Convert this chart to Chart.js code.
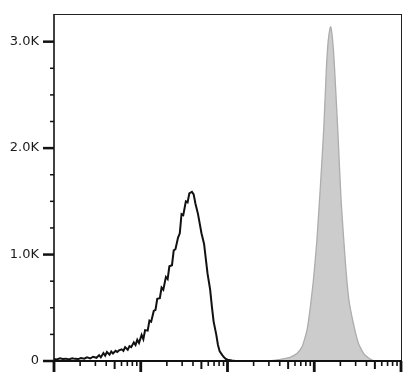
<!DOCTYPE html>
<html>
<head>
<meta charset="utf-8">
<script src="https://cdn.jsdelivr.net/npm/chart.js@4/dist/chart.umd.min.js"></script>
<style>
  html, body { margin: 0; padding: 0; background: #fff; }
  #c { display: block; }
</style>
</head>
<body>
<canvas id="c" width="418" height="375"></canvas>
<script>
const isotypeDecades = [0.00,0.03,0.07,0.10,0.14,0.17,0.21,0.24,0.28,0.31,0.35,0.38,0.42,0.45,0.49,0.52,0.54,0.57,0.59,0.61,0.64,0.66,0.68,0.71,0.73,0.75,0.78,0.80,0.82,0.85,0.87,0.89,0.92,0.94,0.96,0.98,1.01,1.03,1.05,1.08,1.10,1.12,1.15,1.17,1.19,1.22,1.24,1.26,1.29,1.31,1.33,1.36,1.38,1.40,1.43,1.45,1.47,1.49,1.52,1.54,1.56,1.59,1.61,1.63,1.66,1.68,1.70,1.73,1.75,1.77,1.80,1.82,1.84,1.87,1.89,1.91,1.94,1.96,1.98,2.00,2.03,2.05,2.09];
const isotypeCounts  = [20,15,25,18,22,15,25,20,18,28,22,35,25,40,30,55,35,75,50,85,60,90,70,95,85,100,110,95,130,105,140,130,175,150,200,170,245,205,290,285,380,370,470,480,585,590,690,670,790,770,890,900,1040,1050,1160,1200,1380,1370,1500,1490,1575,1590,1565,1480,1380,1290,1200,1100,960,820,670,510,370,250,150,90,55,35,20,12,8,4,0];

const stainedDecades = [2.49,2.57,2.64,2.72,2.80,2.86,2.89,2.92,2.95,2.99,3.03,3.07,3.11,3.14,3.16,3.18,3.19,3.21,3.23,3.27,3.31,3.36,3.40,3.46,3.51,3.57,3.65,3.69];
const stainedCounts  = [0,10,20,35,70,135,210,305,475,755,1130,1630,2190,2750,3000,3120,3140,3030,2810,2190,1500,915,570,320,165,70,15,0];

const yTickValues = [0, 1000, 2000, 3000];
const yTickLabels = ['0', '1.0K', '2.0K', '3.0K'];
const yMinorValues = [250, 500, 750, 1250, 1500, 1750, 2250, 2500, 2750];
const xDecadeMin = 0, xDecadeMax = 4;
const yMax = 3260;

function toPoints(dec, cnt) {
  return dec.map((d, i) => ({ x: Math.pow(10, d), y: cnt[i] }));
}

const axesPlugin = {
  id: 'flowAxes',
  afterDatasetsDraw(chart) {
    const { ctx, chartArea: a, scales } = chart;
    const xs = scales.x, ys = scales.y;
    ctx.save();
    ctx.lineCap = 'butt';
    // frame: top and right
    ctx.strokeStyle = '#222';
    ctx.lineWidth = 1;
    ctx.beginPath();
    ctx.moveTo(a.left, a.top + 0.5); ctx.lineTo(a.right + 0.5, a.top + 0.5);
    ctx.moveTo(a.right + 0.5, a.top); ctx.lineTo(a.right + 0.5, a.bottom);
    ctx.stroke();
    // left axis
    ctx.strokeStyle = '#111';
    ctx.lineWidth = 1.6;
    ctx.beginPath();
    ctx.moveTo(a.left, a.top); ctx.lineTo(a.left, a.bottom + 1);
    ctx.stroke();
    // bottom axis
    ctx.lineWidth = 2;
    ctx.beginPath();
    ctx.moveTo(a.left - 1, a.bottom); ctx.lineTo(a.right + 1, a.bottom);
    ctx.stroke();
    // y ticks
    yTickValues.forEach(v => {
      const y = ys.getPixelForValue(v);
      ctx.lineWidth = 2.5;
      ctx.beginPath(); ctx.moveTo(a.left - 11, y); ctx.lineTo(a.left, y); ctx.stroke();
    });
    yMinorValues.forEach(v => {
      const y = ys.getPixelForValue(v);
      ctx.lineWidth = 1.5;
      ctx.beginPath(); ctx.moveTo(a.left - 4, y); ctx.lineTo(a.left, y); ctx.stroke();
    });
    // x ticks (log decades)
    for (let d = xDecadeMin; d <= xDecadeMax; d++) {
      for (let k = 1; k <= 9; k++) {
        if (d === xDecadeMax && k > 1) break;
        const x = xs.getPixelForValue(k * Math.pow(10, d));
        let len, w;
        if (k === 1) { len = 11; w = 2.8; }
        else if (k === 5) { len = 8; w = 2; }
        else { len = 5; w = 1.6; }
        ctx.lineWidth = w;
        ctx.beginPath(); ctx.moveTo(x, a.bottom); ctx.lineTo(x, a.bottom + len); ctx.stroke();
      }
    }
    ctx.restore();
  }
};

new Chart(document.getElementById('c'), {
  type: 'line',
  data: {
    datasets: [
      {
        label: 'Stained',
        data: toPoints(stainedDecades, stainedCounts),
        borderColor: '#adadad',
        backgroundColor: '#cccccc',
        borderWidth: 1.3,
        fill: 'origin',
        pointRadius: 0,
        tension: 0.15
      },
      {
        label: 'Isotype',
        data: toPoints(isotypeDecades, isotypeCounts),
        borderColor: '#111111',
        borderWidth: 2,
        fill: false,
        pointRadius: 0,
        tension: 0
      }
    ]
  },
  options: {
    responsive: false,
    animation: false,
    layout: { padding: { top: 14, right: 17, left: 0, bottom: 0 } },
    plugins: { legend: { display: false }, tooltip: { enabled: false } },
    scales: {
      x: {
        type: 'logarithmic',
        min: Math.pow(10, xDecadeMin),
        max: Math.pow(10, xDecadeMax),
        grid: { display: false, drawTicks: false },
        border: { display: false },
        ticks: { display: false },
        afterFit(s) { s.height = 14; }
      },
      y: {
        type: 'linear',
        min: 0,
        max: yMax,
        grid: { display: true, drawOnChartArea: false, drawTicks: true, tickLength: 15, tickColor: 'rgba(0,0,0,0)', color: 'rgba(0,0,0,0)' },
        border: { display: false },
        afterBuildTicks(s) { s.ticks = yTickValues.map(v => ({ value: v })); },
        ticks: {
          padding: 0,
          color: '#1a1a1a',
          font: { family: 'DejaVu Sans', size: 13 },
          callback: (v) => { const i = yTickValues.indexOf(v); return i >= 0 ? yTickLabels[i] : ''; }
        },
        afterFit(s) { s.width = 54; }
      }
    }
  },
  plugins: [axesPlugin]
});
</script>
</body>
</html>
